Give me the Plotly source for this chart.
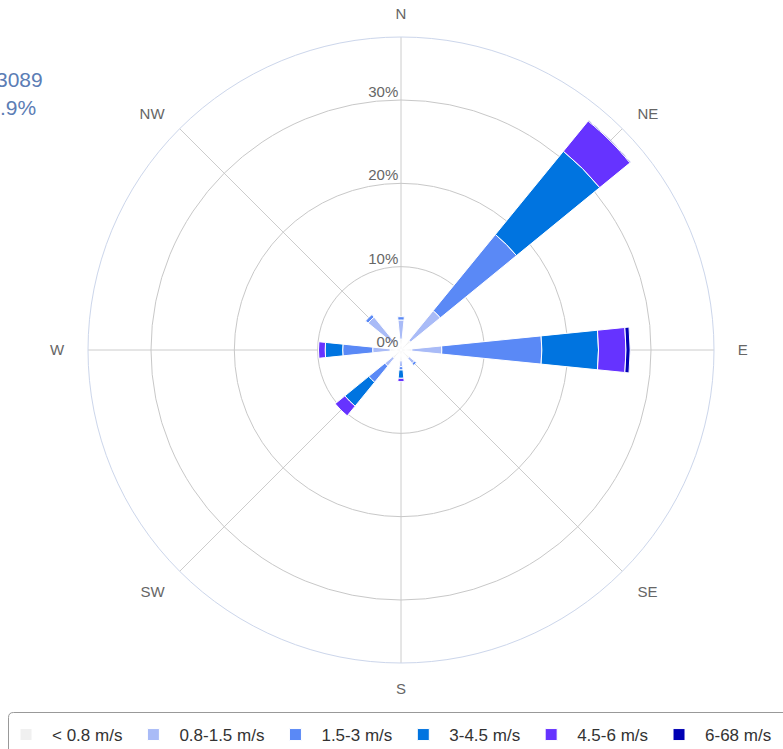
import plotly.graph_objects as go

directions = ["N", "NE", "E", "SE", "S", "SW", "W", "NW"]
speed_bins = ["< 0.8 m/s", "0.8-1.5 m/s", "1.5-3 m/s", "3-4.5 m/s", "4.5-6 m/s", "6-68 m/s"]

# frequency (%) per direction for each speed bin (stacked)
calm_lt08 = [1.3, 1.5, 1.3, 1.3, 1.3, 1.3, 1.3, 1.3]
bin_08_15 = [2.3, 4.6, 3.6, 0.8, 0.7, 1.2, 2.1, 3.8]
bin_15_3 = [0.4, 11.8, 12.0, 0.3, 0.4, 2.5, 3.6, 0.4]
bin_3_45 = [0.0, 12.9, 6.8, 0.0, 1.0, 3.7, 2.1, 0.0]
bin_45_6 = [0.0, 4.7, 3.3, 0.0, 0.4, 1.5, 0.8, 0.0]
bin_6_68 = [0.0, 0.1, 0.5, 0.0, 0.0, 0.0, 0.0, 0.0]

series = [calm_lt08, bin_08_15, bin_15_3, bin_3_45, bin_45_6, bin_6_68]
colors = ["#f0f0f0", "#a9bbf7", "#5a89f6", "#0074e0", "#6633ff", "#0000b4"]

radial_ticks = [0, 10, 20, 30]
radial_ticktext = ["0%", "10%", "20%", "30%"]

W, H = 783, 749
R_MAX = 37.56
BAR_WIDTH = 11.5 / 45.0  # in category units (one category = 45 degrees)
NB = "\u00a0"
# direction labels, padded so they sit a little further out left/right
dir_ticktext = ["N", NB + "NE", NB * 2 + "E", NB + "SE", "S", "SW" + NB, "W" + NB * 2, "NW" + NB]

fig = go.Figure()
for name, vals, col in zip(speed_bins, series, colors):
    fig.add_trace(go.Barpolar(
        r=vals, theta=directions, name=name,
        width=[BAR_WIDTH] * len(directions),
        marker=dict(color=col, line=dict(color="white", width=1)),
    ))

# overlay subplot that only carries the radial percentage labels (lifted above the rings)
fig.add_trace(go.Scatterpolar(r=[], theta=[], subplot="polar2", showlegend=False,
                              hoverinfo="skip"))

def px(x):
    return x / W

def py(y):
    return 1 - y / H

# legend frame (rounded rectangle running off the right/bottom edges)
x0, x1, y0, y1, rr = 8.5, 800, 712.5, 770, 5
path = (
    f"M {px(x0 + rr)},{py(y0)} L {px(x1)},{py(y0)} L {px(x1)},{py(y1)} "
    f"L {px(x0)},{py(y1)} L {px(x0)},{py(y0 + rr)} Q {px(x0)},{py(y0)} {px(x0 + rr)},{py(y0)} Z"
)

domain = dict(x=[88 / W, 714 / W], y=[1 - 663 / H, 1 - 37 / H])

fig.update_layout(
    width=W, height=H,
    margin=dict(l=0, r=0, t=0, b=0, autoexpand=False),
    paper_bgcolor="white",
    font=dict(family="Liberation Sans, Arial, sans-serif", color="#333333"),
    polar=dict(
        domain=domain,
        bgcolor="white",
        barmode="stack",
        angularaxis=dict(
            type="category", categoryarray=directions,
            tickmode="array", tickvals=directions, ticktext=dir_ticktext,
            direction="clockwise", rotation=90,
            showline=True, linecolor="#ccd6eb", linewidth=1,
            showgrid=True, gridcolor="#cccccc", gridwidth=1,
            ticks="outside", ticklen=12, tickcolor="rgba(0,0,0,0)",
            tickfont=dict(size=15, color="#666666"),
        ),
        radialaxis=dict(
            range=[0, R_MAX], angle=90,
            tickvals=radial_ticks, showticklabels=False,
            showline=False, ticks="",
            showgrid=True, gridcolor="#c8c8c8", gridwidth=1,
        ),
    ),
    polar2=dict(
        domain=domain,
        bgcolor="rgba(0,0,0,0)",
        angularaxis=dict(visible=False, direction="clockwise", rotation=90),
        radialaxis=dict(
            range=[0, R_MAX], angle=90, side="counterclockwise",
            tickvals=[v + 0.95 for v in radial_ticks], ticktext=radial_ticktext,
            showline=False, ticks="", showgrid=False,
            tickfont=dict(size=15, color="#666666"),
            tickangle=90,
        ),
    ),
    legend=dict(
        orientation="h", x=0, xanchor="left", y=py(717), yanchor="top",
        font=dict(size=17, color="#333333"),
        bgcolor="rgba(0,0,0,0)", borderwidth=0,
        traceorder="normal", itemwidth=42,
    ),
    shapes=[dict(type="path", xref="paper", yref="paper", path=path,
                 line=dict(color="#999999", width=1), fillcolor="rgba(0,0,0,0)")],
    annotations=[
        dict(text="3089", xref="paper", yref="paper", x=px(45), y=py(80),
             xanchor="right", yanchor="middle", showarrow=False,
             font=dict(size=21, color="#5b7db5")),
        dict(text=".9%", xref="paper", yref="paper", x=px(38), y=py(108),
             xanchor="right", yanchor="middle", showarrow=False,
             font=dict(size=21, color="#5b7db5")),
    ],
)

fig.write_html("out.html", config={"displayModeBar": False},
               post_script="document.body.style.margin='0';")
